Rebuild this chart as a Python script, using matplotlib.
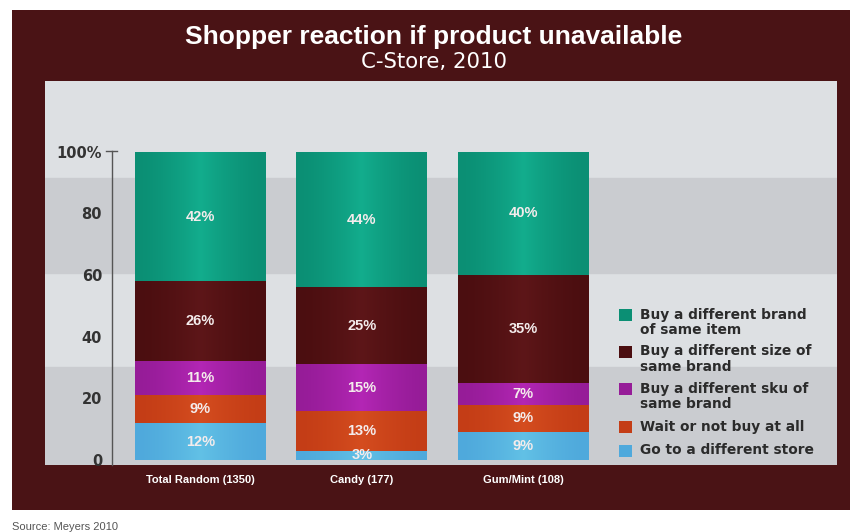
import numpy as np
import matplotlib.pyplot as plt
from matplotlib.patches import Rectangle
from matplotlib.colors import to_rgb

plt.rcParams['font.family'] = ['Liberation Sans', 'DejaVu Sans']

categories = ["Total Random (1350)", "Candy (177)", "Gum/Mint (108)"]
series_names = [
    "Go to a different store",
    "Wait or not buy at all",
    "Buy a different sku of\nsame brand",
    "Buy a different size of\nsame brand",
    "Buy a different brand\nof same item",
]
store = [12, 3, 9]
wait = [9, 13, 9]
sku = [11, 15, 7]
size = [26, 25, 35]
brand = [42, 44, 40]
series_values = [store, wait, sku, size, brand]
series_colors = ["#4fa9dc", "#c43d16", "#961c98", "#4b0e10", "#0b8f74"]
ytick_vals = [0, 20, 40, 60, 80, 100]
ytick_labels = ["0", "20", "40", "60", "80", "100%"]

MAROON = "#4a1315"
PX_W, PX_H = 855, 532


def gradient_for(color, n=64):
    # lighter in the middle of the bar, darker at the sides
    base = np.array(to_rgb(color))
    t = np.linspace(0, 1, n)
    w = 0.28 * (1 - np.abs(2 * t - 1)) ** 1.5
    rgb = base[None, :] * (1 - w[:, None]) + w[:, None] * np.minimum(base * 1.6 + 0.08, 1)[None, :]
    return rgb[None, :, :]


fig = plt.figure(figsize=(8.55, 5.32), dpi=100)
fig.patch.set_facecolor("white")

# dark frame behind everything
fig.patches.append(Rectangle((12 / PX_W, 22 / PX_H), 838 / PX_W, 500 / PX_H,
                             transform=fig.transFigure, facecolor=MAROON,
                             edgecolor="none", zorder=-1))

ax_bottom, ax_height = 67, 384
ax = fig.add_axes([45 / PX_W, ax_bottom / PX_H, 792 / PX_W, ax_height / PX_H])
ax.set_facecolor("#dde0e3")
ax.axhspan(60.7, 91.6, color="#caccd0", zorder=0)
ax.axhspan(-5, 30.2, color="#caccd0", zorder=0)

x = np.arange(len(categories))
bottom = np.zeros(len(categories))
for vals, col in zip(series_values, series_colors):
    bars = ax.bar(x, vals, bottom=bottom, width=0.81, color=col, zorder=2)
    for b, v in zip(bars, vals):
        x0, y0 = b.get_x(), b.get_y()
        im = ax.imshow(gradient_for(col), extent=(x0, x0 + b.get_width(), y0, y0 + b.get_height()),
                       aspect="auto", zorder=2.5, interpolation="bilinear")
        im.set_clip_path(b)
        ax.text(b.get_x() + b.get_width() / 2, y0 + v / 2, f"{v}%", ha="center", va="center",
                color="#f4ecec", fontsize=10.5, fontweight="bold", zorder=3)
    bottom += np.array(vals)

ax.set_xlim(-0.964, 3.946)
ax.set_ylim(-1.62, 123.0)

for s in ["top", "right", "bottom"]:
    ax.spines[s].set_visible(False)
ax.spines["left"].set_position(("data", -0.55))
ax.spines["left"].set_bounds(-1.62, 100.3)
ax.spines["left"].set_color("#555555")
ax.spines["left"].set_linewidth(1.0)
ax.plot([-0.585, -0.515], [100.3, 100.3], color="#555555", lw=1.0, zorder=3)

ax.set_yticks(ytick_vals)
ax.set_yticklabels(ytick_labels, family="DejaVu Sans", fontweight="bold")
ax.tick_params(axis="y", length=0, pad=7, labelsize=10.5, labelcolor="#333333")

ax.set_xticks(x)
ax.set_xticklabels(categories, fontweight="bold")
ax.tick_params(axis="x", length=0, pad=7, labelsize=8, labelcolor="white")

# legend drawn by hand so each swatch lines up with the first text line
legend_rows_px = [315, 352, 389, 427, 451]
for name, col, ypx in zip(series_names[::-1], series_colors[::-1], legend_rows_px):
    yc = (PX_H - ax_bottom - ypx) / ax_height
    ax.add_patch(Rectangle(((619 - 45) / 792, yc - 6 / ax_height), 13 / 792, 12 / ax_height,
                           transform=ax.transAxes, facecolor=col, edgecolor="none", zorder=4))
    ax.text((640 - 45) / 792, yc + 7.5 / ax_height, name, transform=ax.transAxes,
            ha="left", va="top", family="DejaVu Sans", fontsize=9.9, fontweight="bold",
            color="#2b2b2b", linespacing=1.12, zorder=4)

fig.text(0.507, 1 - 37 / PX_H, "Shopper reaction if product unavailable", ha="center", va="center",
         color="white", fontsize=19, fontweight="bold")
fig.text(0.508, 1 - 62 / PX_H, "C-Store, 2010", ha="center", va="center",
         color="white", fontsize=15.3, family="DejaVu Sans")
fig.text(12 / PX_W, 5 / PX_H, "Source: Meyers 2010", ha="left", va="center",
         color="#555555", fontsize=8)

fig.savefig("out.png", dpi=100, facecolor=fig.get_facecolor())
